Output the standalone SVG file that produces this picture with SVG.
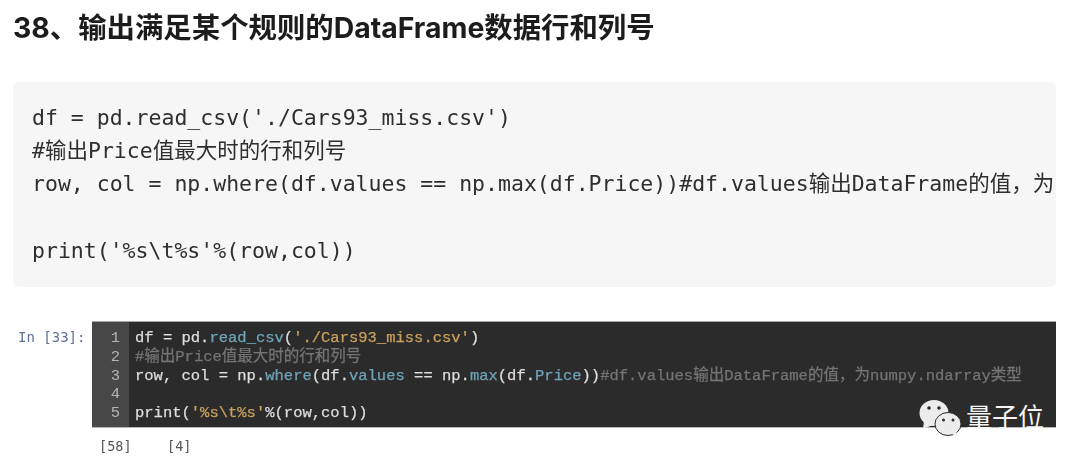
<svg xmlns="http://www.w3.org/2000/svg" width="1080" height="464" viewBox="0 0 1080 464">
<style>
.title{font:700 28.4px Inter,"Noto Sans CJK SC",sans-serif;fill:#1f1f1f}
.top{font:21.5px "DejaVu Sans Mono","Noto Sans CJK SC",monospace;fill:#2e2e2e}
.nb{font:15.5px "Liberation Mono","Noto Sans CJK SC",monospace;fill:#dedede;stroke:#dedede;stroke-width:.25}
.num{font:15.5px "Liberation Mono",monospace;fill:#b4b4b4;text-anchor:end}
.fn{fill:#6fa3b8;stroke:#6fa3b8}.str{fill:#c9a05c;stroke:#c9a05c}.cm{fill:#747474;stroke:#747474}
.pr{font:14px "DejaVu Sans Mono",monospace;fill:#5f7196}
.out{font:13.5px "DejaVu Sans Mono",monospace;fill:#555}
.wm{font:26px "Noto Sans CJK SC",sans-serif;fill:#f4f4f4}
</style>
<defs>
<filter id="soft" x="-2%" y="-10%" width="104%" height="120%"><feGaussianBlur stdDeviation="0.35"/></filter>
<clipPath id="clipTop"><rect x="13" y="82" width="1043" height="205"/></clipPath>
</defs>
<rect width="1080" height="464" fill="#fff"/>
<text class="title" x="13" y="38" filter="url(#soft)">38、输出满足某个规则的DataFrame数据行和列号</text>
<rect x="13" y="82" width="1043" height="205" rx="6" fill="#f6f6f6"/>
<g filter="url(#soft)" clip-path="url(#clipTop)">
<text class="top" x="32" y="125">df = pd.read_csv('./Cars93_miss.csv')</text>
<text class="top" x="32" y="158">#输出Price值最大时的行和列号</text>
<text class="top" x="32" y="191">row, col = np.where(df.values == np.max(df.Price))#df.values输出DataFrame的值，为</text>
<text class="top" x="32" y="258">print('%s\t%s'%(row,col))</text>
</g>
<text class="pr" x="18" y="342" filter="url(#soft)">In [33]:</text>
<rect x="92" y="321" width="964" height="107" fill="#2b2b2b"/>
<rect x="92" y="321" width="37" height="107" fill="#474747"/>
<rect x="92" y="321" width="964" height="1" fill="#a8a8a8"/>
<rect x="92" y="427" width="964" height="1" fill="#b8b8b8"/>
<g filter="url(#soft)">
<text class="num" x="120" y="342">1</text>
<text class="num" x="120" y="361">2</text>
<text class="num" x="120" y="380">3</text>
<text class="num" x="120" y="398">4</text>
<text class="num" x="120" y="417">5</text>
<text class="nb" x="135" y="342">df = pd.<tspan class="fn">read_csv</tspan>(<tspan class="str">'./Cars93_miss.csv'</tspan>)</text>
<text class="nb cm" x="135" y="361">#输出Price值最大时的行和列号</text>
<text class="nb" x="135" y="380">row, col = np.<tspan class="fn">where</tspan>(df.<tspan class="fn">values</tspan> == np.<tspan class="fn">max</tspan>(df.<tspan class="fn">Price</tspan>))<tspan class="cm">#df.values输出DataFrame的值，为numpy.ndarray类型</tspan></text>
<text class="nb" x="135" y="417">print(<tspan class="str">'%s\t%s'</tspan>%(row,col))</text>
</g>
<g filter="url(#soft)">
<text class="out" x="99" y="451">[58]</text>
<text class="out" x="167" y="451">[4]</text>
</g>
<g id="watermark">
<ellipse cx="934" cy="413" rx="14.5" ry="13" fill="#ececec"/>
<path d="M924 421 L923 429 L933 425 Z" fill="#ececec"/>
<circle cx="929" cy="408" r="1.8" fill="#2b2b2b"/>
<circle cx="939" cy="408" r="1.8" fill="#2b2b2b"/>
<ellipse cx="948" cy="424" rx="13" ry="11.5" fill="#ececec" stroke="#2b2b2b" stroke-width="1"/>
<path d="M950 433 L958 437 L956 431 Z" fill="#ececec"/>
<circle cx="943.5" cy="420" r="1.5" fill="#2b2b2b"/>
<circle cx="953" cy="420" r="1.5" fill="#2b2b2b"/>
<text class="wm" x="966" y="427">量子位</text>
</g>
</svg>
